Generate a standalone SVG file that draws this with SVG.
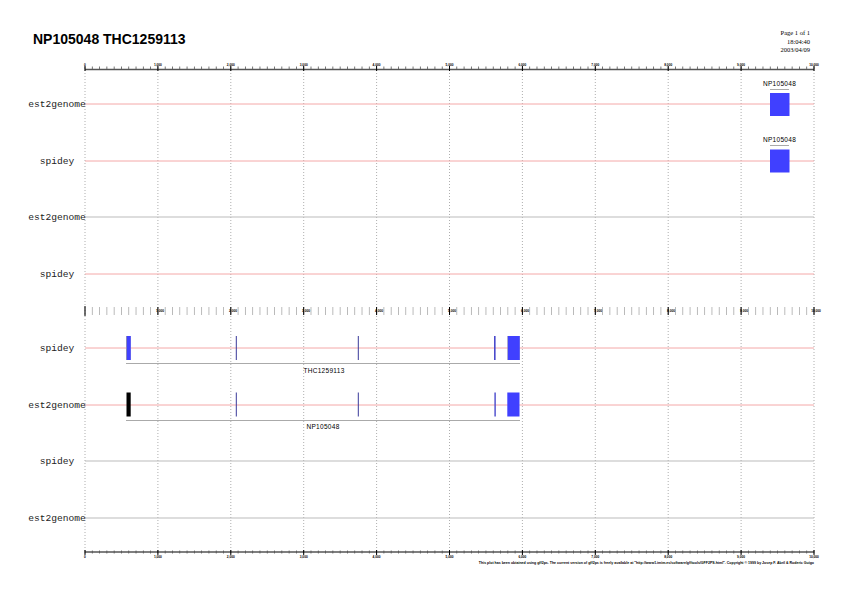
<svg xmlns="http://www.w3.org/2000/svg" width="842" height="595" viewBox="0 0 842 595">
<style>
.title{font-family:"Liberation Sans",Arial,sans-serif;font-weight:bold;font-size:14px;fill:#000}
.page{font-family:"Liberation Serif","Times New Roman",serif;font-size:6.5px;fill:#000;text-anchor:end}
.trk{font-family:"Liberation Mono","Courier New",monospace;font-size:9.6px;fill:#222;text-anchor:middle}
.flab{font-family:"Liberation Sans",Arial,sans-serif;font-size:6.5px;fill:#000;text-anchor:middle;letter-spacing:0.3px}
.tick{font-family:"Liberation Sans",Arial,sans-serif;font-size:3.2px;font-weight:bold;fill:#000;text-anchor:middle}
.foot{font-family:"Liberation Sans",Arial,sans-serif;font-size:3.55px;font-weight:bold;fill:#000;text-anchor:end}
.grid{stroke:#999;stroke-width:0.8;stroke-dasharray:1 2;fill:none}
.pink{stroke:#f4a8a8;stroke-width:1}
.grey{stroke:#bbbbbb;stroke-width:1}
.under{stroke:#aaaaaa;stroke-width:1}
.box{fill:#4040ff}
.thin{fill:#3a3a99}
.major{stroke:#000;stroke-width:1}
</style>
<rect width="842" height="595" fill="#fff"/>
<text class="title" x="33" y="44">NP105048 THC1259113</text>
<text class="page" x="810" y="35">Page 1 of 1</text>
<text class="page" x="810" y="44">18:04:40</text>
<text class="page" x="810" y="52">2003/04/09</text>

<g id="grid">
<path class="grid" d="M85,70V551M157.9,70V551M230.8,70V551M303.7,70V551M376.6,70V551M449.5,70V551M522.4,70V551M595.3,70V551M668.2,70V551M741.1,70V551M814,70V551"/>
</g>

<g id="ruler-top">
<line x1="85" y1="69.5" x2="814" y2="69.5" stroke="#555" stroke-width="1.5"/>
<line x1="84.6" y1="68" x2="815" y2="68" stroke="#555" stroke-width="3" stroke-dasharray="0.8 6.49"/>
<path class="major" d="M85,66V71M157.9,66V71M230.8,66V71M303.7,66V71M376.6,66V71M449.5,66V71M522.4,66V71M595.3,66V71M668.2,66V71M741.1,66V71M814,66V71"/>
<g class="tick">
<text x="85" y="66">0</text><text x="157.9" y="66">1,000</text><text x="230.8" y="66">2,000</text><text x="303.7" y="66">3,000</text><text x="376.6" y="66">4,000</text><text x="449.5" y="66">5,000</text><text x="522.4" y="66">6,000</text><text x="595.3" y="66">7,000</text><text x="668.2" y="66">8,000</text><text x="741.1" y="66">9,000</text><text x="814" y="66">10,000</text>
</g>
</g>

<g id="ruler-mid">
<line x1="84.6" y1="311" x2="815" y2="311" stroke="#aaa" stroke-width="8" stroke-dasharray="0.8 6.49"/>
<path class="major" d="M85,306V316M157.9,307V315M230.8,307V315M303.7,307V315M376.6,307V315M449.5,307V315M522.4,307V315M595.3,307V315M668.2,307V315M741.1,307V315M814,307V315"/>
<g class="tick">
<text x="160" y="312.2">1,000</text><text x="233" y="312.2">2,000</text><text x="306" y="312.2">3,000</text><text x="379" y="312.2">4,000</text><text x="452" y="312.2">5,000</text><text x="525" y="312.2">6,000</text><text x="598" y="312.2">7,000</text><text x="671" y="312.2">8,000</text><text x="744" y="312.2">9,000</text><text x="816" y="312.2">10,000</text>
</g>
</g>

<g id="ruler-bottom">
<line x1="85" y1="552" x2="814" y2="552" stroke="#555" stroke-width="1.5"/>
<line x1="84.6" y1="552" x2="815" y2="552" stroke="#555" stroke-width="3" stroke-dasharray="0.8 6.49"/>
<path class="major" d="M85,550V555M157.9,550V555M230.8,550V555M303.7,550V555M376.6,550V555M449.5,550V555M522.4,550V555M595.3,550V555M668.2,550V555M741.1,550V555M814,550V555"/>
<g class="tick">
<text x="85" y="558">0</text><text x="157.9" y="558">1,000</text><text x="230.8" y="558">2,000</text><text x="303.7" y="558">3,000</text><text x="376.6" y="558">4,000</text><text x="449.5" y="558">5,000</text><text x="522.4" y="558">6,000</text><text x="595.3" y="558">7,000</text><text x="668.2" y="558">8,000</text><text x="741.1" y="558">9,000</text><text x="814" y="558">10,000</text>
</g>
<text class="foot" x="814" y="564">This plot has been obtained using gff2ps. The current version of gff2ps is freely available at "http://www1.imim.es/software/gfftools/GFF2PS.html". Copyright © 1999 by Josep F. Abril &amp; Roderic Guigo</text>
</g>

<g id="tracks">
<line class="pink" x1="85" y1="104" x2="814" y2="104"/>
<line class="pink" x1="85" y1="161" x2="814" y2="161"/>
<line class="grey" x1="85" y1="217" x2="814" y2="217"/>
<line class="pink" x1="85" y1="274" x2="814" y2="274"/>
<line class="pink" x1="85" y1="348" x2="814" y2="348"/>
<line class="pink" x1="85" y1="405" x2="814" y2="405"/>
<line class="grey" x1="85" y1="461" x2="814" y2="461"/>
<line class="grey" x1="85" y1="518" x2="814" y2="518"/>
<text class="trk" x="57" y="107">est2genome</text>
<text class="trk" x="57" y="164">spidey</text>
<text class="trk" x="57" y="220">est2genome</text>
<text class="trk" x="57" y="277">spidey</text>
<text class="trk" x="57" y="351">spidey</text>
<text class="trk" x="57" y="408">est2genome</text>
<text class="trk" x="57" y="464">spidey</text>
<text class="trk" x="57" y="521">est2genome</text>
</g>

<g id="NP105048-est2genome-top">
<text class="flab" x="779.5" y="86">NP105048</text>
<line class="under" x1="770" y1="89.5" x2="789" y2="89.5"/>
<rect class="box" x="770" y="93" width="19.5" height="23"/>
</g>
<g id="NP105048-spidey-top">
<text class="flab" x="779.5" y="142">NP105048</text>
<line class="under" x1="770" y1="145.5" x2="789" y2="145.5"/>
<rect class="box" x="770" y="149.5" width="19.5" height="23"/>
</g>

<g id="THC1259113-spidey">
<rect x="126" y="336" width="4.7" height="24" fill="#8888bb"/>
<rect class="box" x="127" y="336" width="3.7" height="24"/>
<rect class="thin" x="235.8" y="336" width="1" height="24"/>
<rect class="thin" x="357.8" y="336" width="1" height="24"/>
<rect x="494" y="336" width="1.6" height="24" fill="#4a4acc"/>
<rect x="507.3" y="336" width="12.4" height="24" fill="#8888bb"/>
<rect class="box" x="508" y="336" width="11.7" height="24"/>
<line class="under" x1="126" y1="363.5" x2="520" y2="363.5"/>
<text class="flab" x="324" y="373">THC1259113</text>
</g>

<g id="NP105048-est2genome">
<rect x="126.5" y="392.5" width="4.2" height="24" fill="#000"/>
<rect class="thin" x="235.8" y="392.5" width="1" height="24"/>
<rect class="thin" x="357.8" y="392.5" width="1" height="24"/>
<rect x="494.4" y="392.5" width="1.4" height="24" fill="#4a4acc"/>
<rect class="box" x="507.3" y="392.5" width="12.2" height="24"/>
<line class="under" x1="126" y1="420.5" x2="520" y2="420.5"/>
<text class="flab" x="323" y="429">NP105048</text>
</g>
</svg>
